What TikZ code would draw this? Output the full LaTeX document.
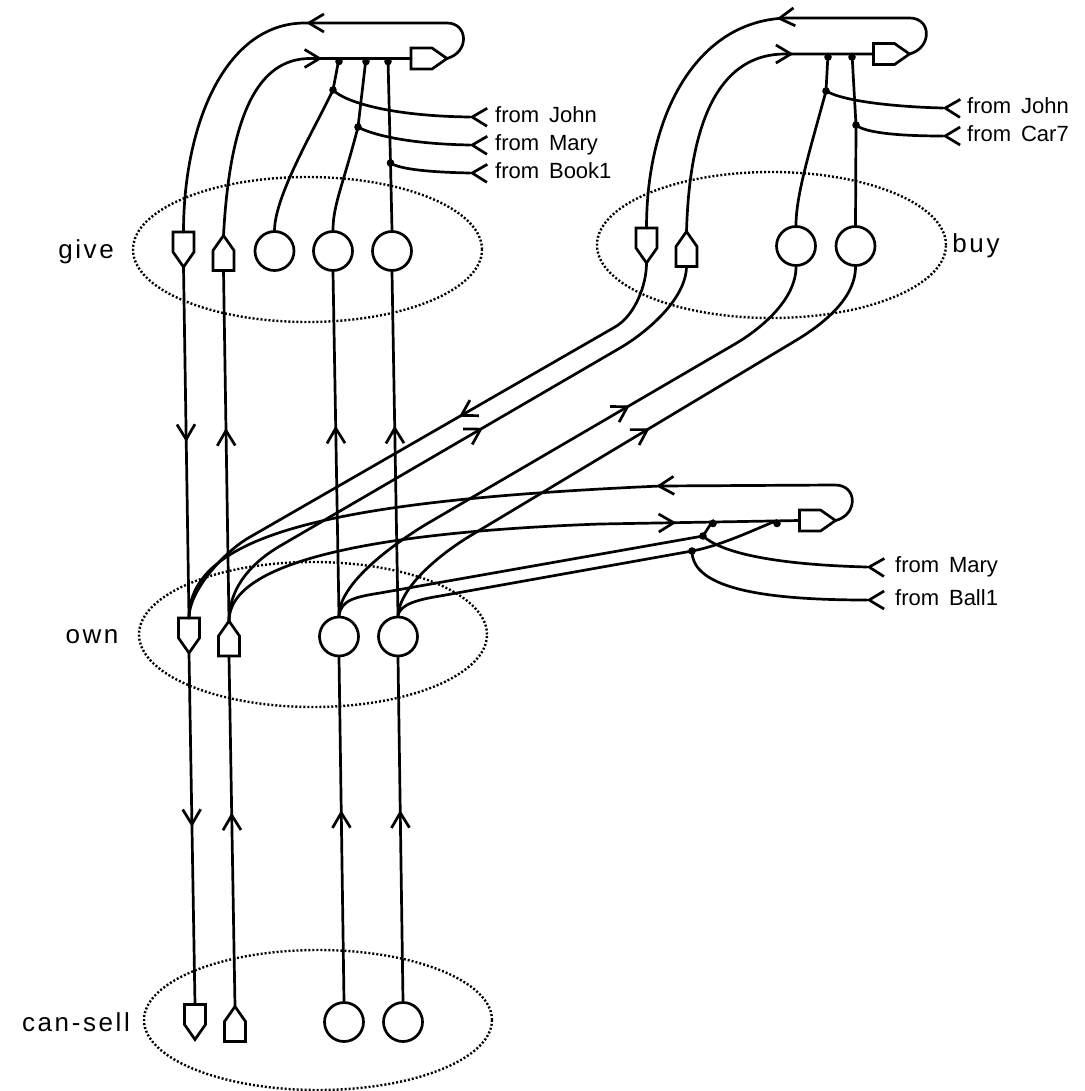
\documentclass[tikz,border=0pt]{standalone}
\usepackage{fontspec}
\setmainfont{Liberation Sans}
\newfontfamily\labfont[LetterSpace=10]{Liberation Sans}
\usetikzlibrary{arrows.meta,decorations.markings,shapes.geometric}
\tikzset{
  ln/.style={line width=2.7pt, line join=round, line cap=round},
  shp/.style={line width=2.7pt, line join=miter},
  chev/.tip={Straight Barb[length=15pt,width=18pt]},
  arrat/.style={postaction={decorate},decoration={markings,mark=at position #1 with {\arrow{chev}}}},
  arrstart/.style={arrat=0.5pt},
  grp/.style={ellipse, draw, line width=2.4pt, dash pattern=on 2pt off 2pt, inner sep=0pt},
  cir/.style={circle, draw, line width=2.7pt, minimum size=39pt, inner sep=0pt},
  lab/.style={inner sep=0pt, font=\labfont\fontsize{26}{30}\selectfont},
  frm/.style={anchor=west, inner sep=0pt, text height=15pt, text depth=4pt, font=\fontsize{22}{24}\selectfont},
  dpent/.pic={\draw[shp] (-10.5,-17.5) -- (10.5,-17.5) -- (10.5,2.5) -- (0,17.5) -- (-10.5,2.5) -- cycle;
              \coordinate (-t) at (0,-17.5); \coordinate (-b) at (0,17.5);},
  upent/.pic={\draw[shp] (0,-17.5) -- (10.5,-2.5) -- (10.5,17.5) -- (-10.5,17.5) -- (-10.5,-2.5) -- cycle;
              \coordinate (-t) at (0,-17.5); \coordinate (-b) at (0,17.5);},
  rpent/.pic={\draw[shp] (-18,-10.5) -- (3,-10.5) -- (18,0) -- (3,10.5) -- (-18,10.5) -- cycle;
              \coordinate (-w) at (-18,0); \coordinate (-e) at (18,0);},
}
\begin{document}
\begin{tikzpicture}[x=1pt,y=-1pt]
\useasboundingbox (0,0) rectangle (1084,1091);

% group outlines
\node[grp, minimum width=349pt, minimum height=145pt] (giveE) at (307.5,249.5) {};
\node[grp, minimum width=349pt, minimum height=146pt] (buyE) at (771.5,245) {};
\node[grp, minimum width=348pt, minimum height=145pt] (ownE) at (313,634.5) {};
\node[grp, minimum width=348pt, minimum height=140pt] (sellE) at (318,1020) {};

% group labels
\node[lab] (giveL) at (86,252) {give};
\node[lab] (buyL) at (976,246) {buy};
\node[lab] (ownL) at (92,637) {own};
\node[lab] (sellL) at (76,1022) {can-sell};

% give
\pic (gD) at (183.5,249.5) {dpent};
\pic (gU) at (223.5,253) {upent};
\node[cir] (gc1) at (274.5,251) {};
\node[cir] (gc2) at (333,251) {};
\node[cir] (gc3) at (392,251) {};
\pic (gR) at (429,58.5) {rpent};
% buy
\pic (bD) at (646.5,245.5) {dpent};
\pic (bU) at (686.5,249) {upent};
\node[cir] (bc1) at (796,246) {};
\node[cir] (bc2) at (855.5,246) {};
\pic (bR) at (891.5,54) {rpent};
% own
\pic (oD) at (189,635.5) {dpent};
\pic (oU) at (229,638.5) {upent};
\node[cir] (oc1) at (339,636.5) {};
\node[cir] (oc2) at (398,636.5) {};
\pic (oR) at (817.5,520.5) {rpent};
% can-sell
\pic (sD) at (195,1022) {dpent};
\pic (sU) at (235,1024) {upent};
\node[cir] (sc1) at (344,1022) {};
\node[cir] (sc2) at (403,1022) {};

% junction points
\coordinate (gd1) at (339,58.5); \coordinate (gd2) at (366,58.5); \coordinate (gd3) at (388,58.5);
\coordinate (gj1) at (333,90); \coordinate (gj2) at (358,127); \coordinate (gj3) at (390.5,163);
\coordinate (bd1) at (828,54); \coordinate (bd2) at (852,54);
\coordinate (bj1) at (826,91); \coordinate (bj2) at (856,125);
\coordinate (od1) at (713,520.5); \coordinate (od2) at (777,520.5);
\coordinate (oj1) at (703,536); \coordinate (oj2) at (692,551);

% from-labels
\node[frm] (gfJ) at (495,117) {from\hspace{0.45em}John};
\node[frm] (gfM) at (495,145) {from\hspace{0.45em}Mary};
\node[frm] (gfB) at (495,173) {from\hspace{0.45em}Book1};
\node[frm] (bfJ) at (967,108) {from\hspace{0.45em}John};
\node[frm] (bfC) at (967,136) {from\hspace{0.45em}Car7};
\node[frm] (ofM) at (895,567) {from\hspace{0.45em}Mary};
\node[frm] (ofB) at (895,600) {from\hspace{0.45em}Ball1};

% give header
\draw[ln, arrat=194pt] (gR-e) .. controls (470,52) and (468,23) .. (447,23) -- (305,23) .. controls (225,23) and (183.5,125) .. (gD-t);
\draw[ln, arrat=228pt] (gU-t) .. controls (230,115) and (258,58.5) .. (310,58.5) -- (gR-w);
\draw[ln] (gd1) -- (gj1) .. controls (315,128) and (275,195) .. (gc1.north);
\draw[ln] (gd2) -- (gj2) .. controls (343,185) and (333,205) .. (gc2.north);
\draw[ln] (gd3) -- (gj3) -- (gc3.north);
\draw[ln, arrstart] ([xshift=-25pt]gfJ.west) .. controls (390,116) and (345,102) .. (gj1);
\draw[ln, arrstart] ([xshift=-25pt]gfM.west) .. controls (410,144) and (372,135) .. (gj2);
\draw[ln, arrstart] ([xshift=-25pt]gfB.west) .. controls (420,172) and (398,168) .. (gj3);

% buy header
\draw[ln, arrat=187pt] (bR-e) .. controls (932,48) and (932,18) .. (909.5,18) -- (790,18) .. controls (700,18) and (646.5,110) .. (bD-t);
\draw[ln, arrat=234pt] (bU-t) .. controls (690,110) and (725,54) .. (785,54) -- (bR-w);
\draw[ln] (bd1) -- (bj1) .. controls (810,150) and (796,195) .. (bc1.north);
\draw[ln] (bd2) -- (bj2) -- (bc2.north);
\draw[ln, arrstart] ([xshift=-24pt]bfJ.west) .. controls (900,107) and (845,102) .. (bj1);
\draw[ln, arrstart] ([xshift=-24pt]bfC.west) .. controls (900,136) and (865,133) .. (bj2);

% own header
\draw[ln, arrat=233pt] (oR-e) .. controls (858,515) and (858,485) .. (835,485) -- (660,486) .. controls (350,500) and (189,530) .. (oD-t);
\draw[ln, arrat=478pt] (oU-t) .. controls (229,560) and (380,532) .. (600,524) -- (oR-w);
\draw[ln] (oc1.north) .. controls (341,600) and (355,597) .. (380,593) -- (oj1) -- (od1);
\draw[ln] (oc2.north) .. controls (400,605) and (415,600) .. (440,596) -- (oj2) .. controls (722,545.6) and (760,527) .. (od2);
\draw[ln, arrstart] ([xshift=-28pt]ofM.west) .. controls (790,565) and (725,556) .. (oj1);
\draw[ln, arrstart] ([xshift=-28pt]ofB.west) .. controls (770,600) and (692,590) .. (oj2);

% buy -> own
\draw[ln, arrat=254pt] (bD-b) .. controls (646.5,285) and (635,315.5) .. (615,327) -- (250,537) .. controls (225,551) and (189,590) .. (oD-t);
\draw[ln, arrat=330pt] (oU-t) .. controls (229,585) and (255,560.6) .. (280,546) -- (620,348) .. controls (645,333.4) and (686,300) .. (bU-b);
\draw[ln, arrat=366pt] (oc1.north) .. controls (339,580) and (405,536.6) .. (430,522) -- (735,344) .. controls (760,329.4) and (796,300) .. (bc1.south);
\draw[ln, arrat=320pt] (oc2.north) .. controls (400,585) and (445,551) .. (470,536) -- (795,341) .. controls (820,326) and (855.5,300) .. (bc2.south);

% give -> own
\draw[ln, arrat=175pt] (gD-b) -- (oD-t);
\draw[ln, arrat=193pt] (oU-t) -- (gU-b);
\draw[ln, arrat=190pt] (oc1.north) -- (gc2.south);
\draw[ln, arrat=190pt] (oc2.north) -- (gc3.south);

% own -> can-sell
\draw[ln, arrat=174pt] (oD-b) -- (sD-t);
\draw[ln, arrat=194pt] (sU-t) -- (oU-b);
\draw[ln, arrat=191pt] (sc1.north) -- (oc1.south);
\draw[ln, arrat=191pt] (sc2.north) -- (oc2.south);

% dots
\foreach \c in {gd1,gd2,gd3,bd1,bd2,od1,od2}
  \fill ([yshift=-3pt]\c) circle (3.8pt);
\foreach \c in {gj1,gj2,gj3,bj1,bj2,oj1,oj2}
  \fill (\c) circle (3.8pt);
\end{tikzpicture}
\end{document}
